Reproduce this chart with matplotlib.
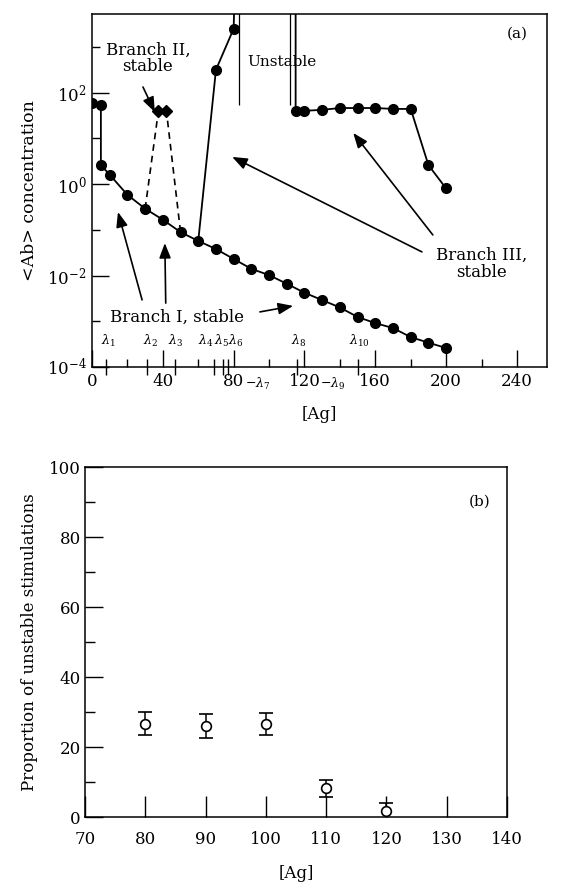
import matplotlib
matplotlib.use("Agg")
import matplotlib.pyplot as plt
import matplotlib.transforms as mtransforms
import numpy as np

plt.rcParams['font.family'] = ['DejaVu Serif']
plt.rcParams['mathtext.fontset'] = 'dejavuserif'

# ---------------- data: panel (a) ----------------
branch1_x = [0, 5, 5, 10, 20, 30, 40, 50, 60, 70, 80, 90, 100, 110, 120, 130,
             140, 150, 160, 170, 180, 190, 200]
branch1_y = [60, 54, 2.6, 1.6, 0.58, 0.29, 0.166, 0.089, 0.057, 0.038, 0.023,
             0.014, 0.0102, 0.0066, 0.0042, 0.0029, 0.0020, 0.00124, 0.00091,
             0.00071, 0.00045, 0.00034, 0.00026]

branch2_x = [30, 37.5, 42, 50]
branch2_y = [0.29, 40, 40, 0.089]

# rising part of branch III (last value is off scale)
branch3a_x = [60, 70, 80, 81]
branch3a_y = [0.057, 316, 2500, 1e5]
# upper part of branch III (first value is off scale)
branch3b_x = [115, 115, 120, 130, 140, 150, 160, 170, 180, 190, 200]
branch3b_y = [1e5, 40, 40, 42, 46, 46, 46, 44, 44, 2.6, 0.8]

unstable_bounds = [83, 112]
unstable_bottom = 54

lam_pos = [8, 31, 47, 69, 74, 77, 116, 150]
lam_names = ['1', '2', '3', '4', '5', '6', '8', '10']
lam_label_x = [9, 33, 47, 64, 73, 81, 117, 151]

# ---------------- data: panel (b) ----------------
b_x = [80, 90, 100, 110, 120]
b_y = [26.7, 26.1, 26.6, 8.2, 1.8]
b_err = [3.4, 3.4, 3.2, 2.5, 2.3]

fig = plt.figure(figsize=(5.67, 8.83), dpi=100)
ax1 = fig.add_axes([0.1623, 0.5844, 0.8025, 0.3998])
ax2 = fig.add_axes([0.1499, 0.0747, 0.7443, 0.3964])

# ---------------- panel (a) ----------------
ax1.set_yscale('log')
ax1.set_xlim(0, 257)
ax1.set_ylim(1e-4, 5250)

ax1.plot(branch1_x, branch1_y, color='black', lw=1.3, marker='o', ms=7,
         zorder=3)
ax1.plot(branch2_x, branch2_y, color='black', lw=1.2, ls=(0, (4, 3)), zorder=2)
ax1.plot(branch2_x[1:3], branch2_y[1:3], color='black', lw=1.2, marker='D',
         ms=6.5, ls='none', zorder=3)
ax1.plot(branch3a_x, branch3a_y, color='black', lw=1.3, zorder=2)
ax1.plot(branch3a_x[1:3], branch3a_y[1:3], 'o', color='black', ms=7, zorder=3)
ax1.plot(branch3b_x, branch3b_y, color='black', lw=1.3, zorder=2)
ax1.plot(branch3b_x[1:], branch3b_y[1:], 'o', color='black', ms=7, zorder=3)
ax1.vlines(unstable_bounds, unstable_bottom, 1e5, color='black', lw=0.9)

ax1.set_xticks([0, 40, 80, 120, 160, 200, 240])
ax1.set_xticklabels(['0', '40', '80', '120', '160', '200', '240'])
ax1.set_xticks([20, 60, 100, 140, 180, 220], minor=True)
ax1.set_yticks([1e-4, 1e-2, 1, 1e2])
ax1.set_yticks([1e-3, 1e-1, 10, 1e3], minor=True)
ax1.set_yticklabels([], minor=True)
ax1.tick_params(which='major', direction='in', length=12, width=1,
                labelsize=12, top=False, right=False, pad=4)
ax1.tick_params(which='minor', direction='in', length=6, width=1,
                top=False, right=False)

# lambda ticks crossing the axis
trans_a = mtransforms.blended_transform_factory(ax1.transData, ax1.transAxes)
ax1.plot(lam_pos, [0] * len(lam_pos), transform=trans_a, ls='none',
         marker='|', ms=11, mew=1, color='black', clip_on=False)
for lx, nm in zip(lam_label_x, lam_names):
    ax1.text(lx, 0.073, r'$\lambda_{%s}$' % nm, transform=trans_a,
             ha='center', va='center', fontsize=9)
# lambda7 and lambda9 tags next to tick labels
for v, nm in [(80, '7'), (120, '9')]:
    ax1.annotate(r'$-\lambda_{%s}$' % nm, xy=(v, 0), xycoords=trans_a,
                 xytext=(8 if v == 80 else 11, -12), textcoords='offset points',
                 ha='left', va='center', fontsize=9)

ax1.set_xlabel('[Ag]', fontsize=12, labelpad=12)
ax1.set_ylabel('<Ab> concentration', fontsize=12.5, labelpad=6)
ax1.text(0.935, 0.945, '(a)', transform=ax1.transAxes, ha='center',
         va='center', fontsize=11)

arrow = dict(arrowstyle='-|>,head_length=0.9,head_width=0.35', color='black',
             lw=1.2, shrinkA=0, shrinkB=0)
ax1.text(0.123, 0.875, 'Branch II,\nstable', transform=ax1.transAxes,
         ha='center', va='center', fontsize=12, linespacing=0.95)
ax1.annotate('', xy=(0.138, 0.722), xycoords='axes fraction',
             xytext=(0.112, 0.793), textcoords='axes fraction', arrowprops=arrow)
ax1.text(0.418, 0.864, 'Unstable', transform=ax1.transAxes, ha='center',
         va='center', fontsize=11)
ax1.text(0.857, 0.292, 'Branch III,\nstable', transform=ax1.transAxes,
         ha='center', va='center', fontsize=12, linespacing=0.95)
ax1.annotate('', xy=(0.308, 0.595), xycoords='axes fraction',
             xytext=(0.725, 0.326), textcoords='axes fraction', arrowprops=arrow)
ax1.annotate('', xy=(0.574, 0.663), xycoords='axes fraction',
             xytext=(0.749, 0.374), textcoords='axes fraction', arrowprops=arrow)
ax1.text(0.187, 0.142, 'Branch I, stable', transform=ax1.transAxes,
         ha='center', va='center', fontsize=12)
ax1.annotate('', xy=(0.057, 0.439), xycoords='axes fraction',
             xytext=(0.110, 0.19), textcoords='axes fraction', arrowprops=arrow)
ax1.annotate('', xy=(0.160, 0.351), xycoords='axes fraction',
             xytext=(0.162, 0.181), textcoords='axes fraction', arrowprops=arrow)
ax1.annotate('', xy=(0.442, 0.173), xycoords='axes fraction',
             xytext=(0.369, 0.156), textcoords='axes fraction', arrowprops=arrow)

# ---------------- panel (b) ----------------
ax2.set_xlim(70, 140)
ax2.set_ylim(0, 100)
ax2.errorbar(b_x, b_y, yerr=b_err, fmt='o', mfc='white', mec='black',
             ms=7, mew=1.2, ecolor='black', elinewidth=1.1, capsize=5,
             capthick=1.1, zorder=3)
ax2.set_xticks(np.arange(70, 141, 10))
ax2.set_yticks(np.arange(0, 101, 20))
ax2.set_yticks(np.arange(10, 100, 20), minor=True)
ax2.tick_params(axis='x', which='major', direction='in', length=15, width=1,
                labelsize=12, top=False, pad=10)
ax2.tick_params(axis='y', which='major', direction='in', length=13, width=1,
                labelsize=12, right=False, pad=3)
ax2.tick_params(axis='y', which='minor', direction='in', length=7, width=1,
                right=False)
ax2.set_xlabel('[Ag]', fontsize=12, labelpad=12)
ax2.set_ylabel('Proportion of unstable stimulations', fontsize=12, labelpad=8)
ax2.text(0.935, 0.902, '(b)', transform=ax2.transAxes, ha='center',
         va='center', fontsize=11)

for ax in (ax1, ax2):
    for s in ax.spines.values():
        s.set_linewidth(1.1)

fig.savefig('out.png', dpi=100)
